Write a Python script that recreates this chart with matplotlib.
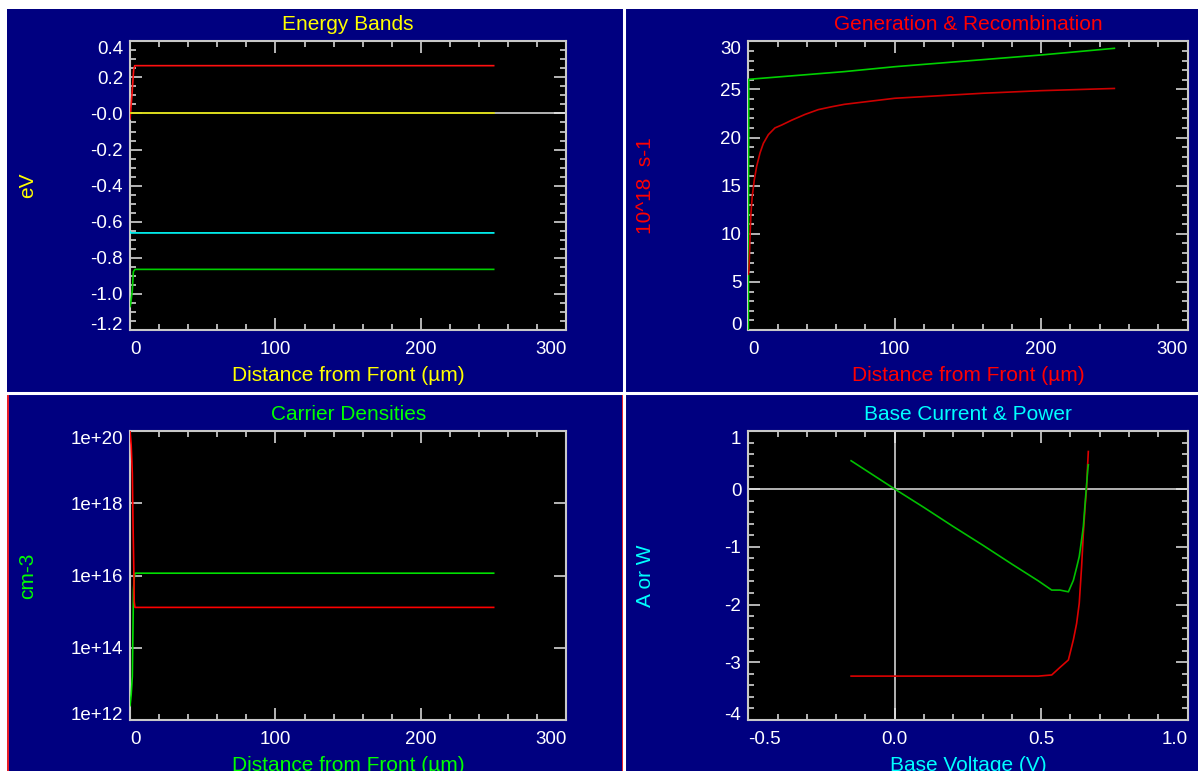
import matplotlib
matplotlib.use('Agg')
import matplotlib.pyplot as plt
from matplotlib.ticker import MultipleLocator, NullLocator
from matplotlib.patches import Rectangle
from matplotlib.lines import Line2D

plt.rcParams['font.family'] = ['Liberation Sans', 'DejaVu Sans']

# ---------------- data ----------------
# Energy Bands (x in um, energies in eV)
eb_red_x = [0.0, 1.4, 2.5, 3.2, 250.0]
eb_red_y = [-0.03, 0.11, 0.24, 0.265, 0.265]
eb_yel_x = [0.0, 250.0]
eb_yel_y = [0.0, 0.0]
eb_cyan_x = [0.0, 0.5, 250.0]
eb_cyan_y = [-0.655, -0.662, -0.662]
eb_grn_x = [0.0, 0.4, 1.6, 2.3, 3.4, 250.0]
eb_grn_y = [-1.07, -1.06, -0.98, -0.877, -0.864, -0.864]
eb_yticks = [-1.2, -1.0, -0.8, -0.6, -0.4, -0.2, 0.0, 0.2, 0.4]
eb_ylabels = ['-1.2', '-1.0', '-0.8', '-0.6', '-0.4', '-0.2', '-0.0', '0.2', '0.4']

# Generation & Recombination (10^18 s-1)
gen_x = [0.0, 0.3, 65.6, 100.0, 200.0, 250.0]
gen_y = [0.0, 26.05, 26.85, 27.36, 28.58, 29.27]
rec_x = [0.0, 0.45, 1.1, 1.8, 2.7, 4.1, 5.7, 8.0, 10.3, 13.7, 18.2, 22.8, 29.6,
         38.7, 47.8, 57.0, 65.6, 100.0, 160.0, 200.0, 250.0]
rec_y = [5.8, 6.2, 9.35, 12.1, 13.9, 15.6, 17.0, 18.4, 19.4, 20.3, 21.0, 21.3, 21.8,
         22.4, 22.9, 23.2, 23.45, 24.08, 24.6, 24.87, 25.1]
gr_yticks = [0, 5, 10, 15, 20, 25, 30]

# Carrier Densities (cm-3)
cd_red_x = [0.0, 0.8, 1.6, 2.1, 2.7, 2.9, 3.4, 250.0]
cd_red_y = [1e20, 4.2e19, 6.9e18, 2.5e17, 9.3e15, 1.9e15, 1.32e15, 1.32e15]
cd_grn_x = [0.0, 0.8, 1.6, 2.1, 2.4, 2.9, 3.4, 250.0]
cd_grn_y = [2.5e12, 5.0e12, 1.6e13, 5.0e14, 4.0e15, 8.5e15, 1.17e16, 1.17e16]
cd_yticks = [1e12, 1e14, 1e16, 1e18, 1e20]
cd_ylabels = ['1e+12', '1e+14', '1e+16', '1e+18', '1e+20']

# Base Current & Power
bv = [-0.149, 0.0, 0.1, 0.2, 0.3, 0.4, 0.49, 0.536, 0.564, 0.593, 0.610, 0.621,
      0.630, 0.638, 0.644, 0.650, 0.655, 0.659, 0.661]
bcur = [-3.24, -3.24, -3.24, -3.24, -3.24, -3.24, -3.24, -3.22, -3.09, -2.96, -2.61,
        -2.33, -1.98, -1.35, -0.77, -0.31, 0.01, 0.45, 0.65]
bpow = [0.49, 0.0, -0.32, -0.65, -0.97, -1.30, -1.59, -1.75, -1.75, -1.78, -1.58,
        -1.36, -1.17, -0.88, -0.65, -0.25, 0.07, 0.33, 0.42]
bc_xticks = [-0.5, 0.0, 0.5, 1.0]
bc_xlabels = ['-0.5', '0.0', '0.5', '1.0']
bc_yticks = [-4, -3, -2, -1, 0, 1]

dist_xticks = [0, 100, 200, 300]

# ---------------- figure ----------------
W, H = 1198, 771
NAVY = '#000080'
fig = plt.figure(figsize=(W / 100, H / 100), dpi=100, facecolor=NAVY)


def ax_at(l, t, r, b):
    return fig.add_axes([l / W, 1 - b / H, (r - l) / W, (b - t) / H])


def style(ax, color, title, xlabel, ylabel):
    ax.set_facecolor('black')
    for s in ax.spines.values():
        s.set_color('#c8c8c8')
        s.set_linewidth(1.5)
    ax.tick_params(which='both', direction='in', top=True, right=True,
                   colors='#e6e6e6', labelcolor='white', labelsize=13.5, width=1.1)
    ax.tick_params(which='major', length=8.5)
    ax.tick_params(which='minor', length=4)
    ax.tick_params(axis='x', which='major', pad=8)
    ax.tick_params(axis='y', which='major', pad=5)
    ax.set_title(title, color=color, fontsize=15, pad=8)
    ax.set_xlabel(xlabel, color=color, fontsize=15)
    ax.xaxis.set_label_coords(0.5, -0.177)
    ax.xaxis.label.set_va('baseline')
    ax.set_ylabel(ylabel, color=color, fontsize=15)
    ax.yaxis.set_label_coords(-0.235, 0.5)
    ax.yaxis.label.set_va('center')


def edge_align(ax):
    xl = ax.get_xticklabels()
    xl[0].set_ha('left')
    xl[-1].set_ha('right')
    yl = ax.get_yticklabels()
    yl[0].set_va('baseline')
    yl[-1].set_va('top')


ZL = dict(color='#d0d0d0', lw=1.2, zorder=1.5)
LW = 1.2

# Top-left: Energy Bands
ax1 = ax_at(130, 41.3, 566.4, 330)
style(ax1, '#ffff00', 'Energy Bands', 'Distance from Front (µm)', 'eV')
ax1.axhline(0, **ZL)
ax1.plot(eb_red_x, eb_red_y, color='#ff1010', lw=LW, zorder=3)
ax1.plot(eb_yel_x, eb_yel_y, color='#e0e000', lw=LW, zorder=3)
ax1.plot(eb_cyan_x, eb_cyan_y, color='#00ffff', lw=LW, zorder=3)
ax1.plot(eb_grn_x, eb_grn_y, color='#00d000', lw=LW, zorder=3)
ax1.set_xlim(0, 300)
ax1.set_ylim(-1.2, 0.4)
ax1.set_xticks(dist_xticks, [str(v) for v in dist_xticks])
ax1.set_yticks(eb_yticks, eb_ylabels)
ax1.xaxis.set_minor_locator(MultipleLocator(20))
ax1.yaxis.set_minor_locator(MultipleLocator(0.05))
edge_align(ax1)

# Top-right: Generation & Recombination
ax2 = ax_at(748.3, 41.3, 1187.6, 330)
style(ax2, '#ff0000', 'Generation & Recombination', 'Distance from Front (µm)', '10^18  s-1')
ax2.plot(gen_x, gen_y, color='#00d000', lw=LW, zorder=3)
ax2.plot(rec_x, rec_y, color='#cc0000', lw=LW, zorder=3)
ax2.set_xlim(0, 300)
ax2.set_ylim(0, 30)
ax2.set_xticks(dist_xticks, [str(v) for v in dist_xticks])
ax2.set_yticks(gr_yticks, [str(v) for v in gr_yticks])
ax2.xaxis.set_minor_locator(MultipleLocator(20))
ax2.yaxis.set_minor_locator(MultipleLocator(1))
edge_align(ax2)

# Bottom-left: Carrier Densities
ax3 = ax_at(130, 431.3, 566.4, 720)
style(ax3, '#00ff00', 'Carrier Densities', 'Distance from Front (µm)', 'cm-3')
ax3.plot(cd_grn_x, cd_grn_y, color='#00e000', lw=LW, zorder=3)
ax3.plot(cd_red_x, cd_red_y, color='#ff0000', lw=LW, zorder=3)
ax3.set_yscale('log')
ax3.set_xlim(0, 300)
ax3.set_ylim(1e12, 1e20)
ax3.set_xticks(dist_xticks, [str(v) for v in dist_xticks])
ax3.set_yticks(cd_yticks, cd_ylabels)
ax3.xaxis.set_minor_locator(MultipleLocator(20))
ax3.yaxis.set_minor_locator(NullLocator())
edge_align(ax3)

# Bottom-right: Base Current & Power
ax4 = ax_at(748.3, 431.3, 1187.6, 720)
style(ax4, '#00ffff', 'Base Current & Power', 'Base Voltage (V)', 'A or W')
ax4.axhline(0, **ZL)
ax4.axvline(0, **ZL)
ax4.plot(bv, bcur, color='#dd0000', lw=LW, zorder=3)
ax4.plot(bv, bpow, color='#00c000', lw=LW, zorder=3)
ax4.set_xlim(-0.5, 1.0)
ax4.set_ylim(-4, 1)
ax4.set_xticks(bc_xticks, bc_xlabels)
ax4.set_yticks(bc_yticks, [str(v) for v in bc_yticks])
ax4.xaxis.set_minor_locator(MultipleLocator(0.1))
ax4.yaxis.set_minor_locator(MultipleLocator(0.2))
edge_align(ax4)

# ---------------- panel frames ----------------
def px_rect(x0, y0, x1, y1, **kw):
    fig.add_artist(Rectangle((x0 / W, 1 - y1 / H), (x1 - x0) / W, (y1 - y0) / H,
                             transform=fig.transFigure, **kw))


def px_line(xs, ys, **kw):
    fig.add_artist(Line2D([x / W for x in xs], [1 - y / H for y in ys],
                          transform=fig.transFigure, **kw))


px_rect(0, 0, W, 9, facecolor='white', edgecolor='none')
px_rect(0, 0, 7, H, facecolor='white', edgecolor='none')
px_line([624, 624], [9, H], color='white', lw=2.2)
px_line([7, W], [392.5, 392.5], color='white', lw=2.2)
px_rect(7.5, 393.5, 623.2, H + 5, facecolor='none', edgecolor='#ff2020', lw=1.3)

fig.savefig('out.png', dpi=100, facecolor=fig.get_facecolor())
